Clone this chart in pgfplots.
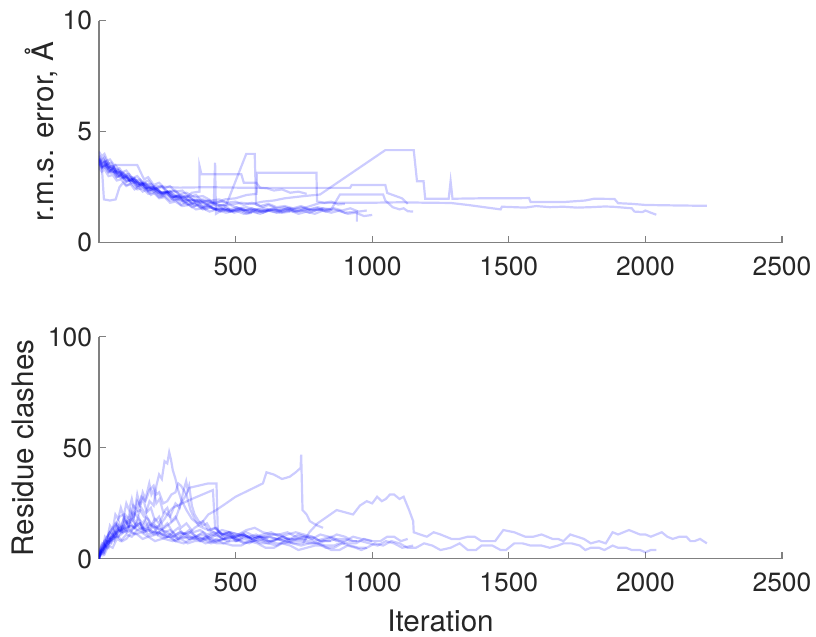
\documentclass[border=0pt]{standalone}
\usepackage{pgfplots}
\pgfplotsset{compat=1.18}
\usepackage{fontspec}
\setmainfont{TeX Gyre Heros}
\definecolor{axgray}{gray}{0.5}
\newcommand{\labfont}{\fontsize{14.8}{17}\selectfont}
\pgfplotsset{
  traj/.style={color=blue, opacity=0.2, line width=1.1pt},
  mystyle/.style={
    scale only axis, width=341.5pt, height=111pt,
    axis lines*=left,
    axis line style={axgray, line width=0.6pt},
    every tick/.style={axgray, line width=0.6pt},
    tick align=inside, major tick length=3.5pt,
    xmin=0, xmax=2500,
    xtick={500,1000,1500,2000,2500},
    /pgf/number format/assume math mode=true,
    /pgf/number format/1000 sep={},
    tick label style={font=\fontsize{13.2}{15}\selectfont, text=black!85},
    xticklabel style={yshift=-3.5pt},
  }
}
\begin{document}
\begin{tikzpicture}
\begin{axis}[mystyle, at={(0,0)}, anchor=south west,
  ymin=0, ymax=10, ytick={0,5,10},
  ylabel={r.m.s. error, Å},
  every axis y label/.style={at={(axis description cs:-0.066,0.5)}, rotate=90, anchor=base, inner sep=0pt, font=\labfont, text=black!85},
]
\addplot[traj] coordinates {(0,3.9)(8,3.7)(16,3.8)(25,3.5)(34,3.6)(45,3.3)(55,3.4)(66,3.1)(78,3.2)(90,2.9)(102,3.0)(115,2.75)(128,2.85)(142,2.6)(156,2.7)(170,2.45)(185,2.55)(200,2.3)(215,2.4)(232,2.15)(248,2.25)(265,2.0)(282,2.1)(300,1.85)(320,1.95)(340,1.75)(360,1.85)(380,1.6)(400,1.7)(420,1.5)(440,1.6)(460,1.45)(480,1.5)};
\addplot[traj] coordinates {(0,3.7)(10,3.5)(18,1.95)(40,1.9)(61,1.95)(75,2.5)(88,2.7)(100,2.55)(115,2.65)(130,2.4)(145,2.5)(160,2.3)(175,2.4)(190,2.15)(205,2.25)(220,2.05)(240,2.1)(260,1.9)(280,1.95)(300,1.7)(320,1.8)(340,1.6)(360,1.7)(380,1.5)(400,1.6)(420,1.55)(445,1.4)(470,1.5)(495,1.35)(520,1.45)(540,1.3)(560,1.35)};
\addplot[traj] coordinates {(0,4.1)(10,3.9)(20,4.0)(30,3.7)(40,3.75)(55,3.5)(140,3.5)(165,2.85)(180,2.95)(200,2.6)(220,2.7)(240,2.45)(260,2.55)(280,2.3)(305,2.35)(330,2.05)(355,2.15)(380,1.85)(405,1.9)(430,1.65)(455,1.7)(480,1.5)(505,1.6)(530,1.45)(555,1.5)(580,1.35)(600,1.45)(620,1.5)};
\addplot[traj] coordinates {(0,3.75)(10,3.55)(20,3.65)(32,3.35)(45,3.45)(58,3.15)(70,3.25)(85,2.95)(100,3.05)(115,2.75)(130,2.85)(150,2.55)(170,2.65)(190,2.35)(210,2.45)(230,2.2)(250,2.3)(270,2.05)(290,2.15)(310,1.8)(330,1.9)(350,1.65)(370,1.75)(390,1.5)(410,1.6)(435,1.45)(460,1.55)(490,1.4)(520,1.5)(550,1.35)(580,1.45)(610,1.4)(640,1.5)(670,1.35)(700,1.4)};
\addplot[traj] coordinates {(0,3.6)(12,3.4)(25,3.5)(38,3.2)(50,3.3)(65,2.95)(80,3.05)(100,2.75)(120,2.85)(140,2.55)(160,2.65)(180,2.35)(200,2.45)(225,2.2)(250,2.3)(275,2.05)(300,2.15)(320,2.05)(340,2.25)(368,2.3)(368,3.45)(375,3.08)(521,3.08)(530,2.7)(576,2.7)(590,2.47)(615,2.45)(640,2.35)(670,2.4)(700,2.25)(730,2.3)(760,2.2)};
\addplot[traj] coordinates {(0,3.8)(15,3.6)(30,3.7)(45,3.4)(60,3.5)(80,3.15)(100,3.25)(120,2.9)(140,3.0)(160,2.7)(180,2.8)(205,2.45)(230,2.55)(255,2.25)(280,2.35)(305,2.0)(330,2.1)(355,1.8)(380,1.9)(400,1.65)(420,1.7)(425,3.6)(428,1.3)(455,1.5)(480,1.4)(510,1.55)(540,1.45)(570,1.5)(600,1.35)(630,1.5)(660,1.45)(690,1.55)(720,1.4)(750,1.5)(780,1.45)(820,1.5)};
\addplot[traj] coordinates {(0,3.65)(12,3.45)(25,3.55)(40,3.25)(55,3.35)(72,3.05)(90,3.1)(110,2.8)(130,2.9)(150,2.6)(170,2.65)(190,2.4)(210,2.45)(235,2.2)(260,2.3)(285,2.0)(310,2.05)(335,1.85)(360,1.9)(385,1.75)(410,1.8)(440,1.68)(466,1.71)(539,4.0)(570,4.0)(575,1.73)(600,1.6)(620,1.7)(650,1.55)(680,1.6)(710,1.5)(740,1.6)(770,1.5)(800,1.55)(825,1.45)(850,1.5)};
\addplot[traj] coordinates {(0,3.5)(15,3.35)(30,3.45)(45,3.15)(60,3.2)(80,2.9)(100,2.95)(120,2.7)(140,2.75)(165,2.45)(190,2.5)(215,2.25)(240,2.3)(265,2.05)(290,2.1)(315,1.9)(340,1.95)(370,1.8)(400,1.9)(430,1.8)(460,1.95)(500,2.0)(540,2.15)(577,2.2)(578,3.15)(796,3.15)(798,1.86)(825,1.8)(850,1.85)(875,1.72)(900,1.75)};
\addplot[traj] coordinates {(0,3.55)(10,3.35)(20,3.45)(35,3.15)(50,3.2)(65,2.95)(80,3.0)(100,2.75)(120,2.8)(140,2.5)(160,2.55)(180,2.3)(200,2.35)(225,2.1)(250,2.15)(275,1.9)(300,1.95)(325,1.7)(350,1.75)(375,1.55)(400,1.65)(425,1.5)(450,1.55)(475,1.4)(500,1.5)(530,1.45)(560,1.55)(590,1.4)(620,1.45)(650,1.35)(680,1.5)(710,1.4)(740,1.45)(770,1.35)(800,1.5)(830,1.4)(860,1.5)(900,1.35)(944,1.4)(944,0.95)};
\addplot[traj] coordinates {(0,3.95)(10,3.75)(20,3.85)(32,3.55)(45,3.6)(60,3.3)(75,3.35)(92,3.05)(110,3.1)(130,2.8)(150,2.85)(170,2.6)(190,2.65)(210,2.45)(230,2.5)(250,2.3)(270,2.35)(295,2.2)(320,2.25)(350,2.05)(380,2.1)(410,1.9)(440,1.95)(470,1.8)(500,1.85)(530,1.7)(560,1.8)(590,1.65)(620,1.75)(650,1.6)(680,1.65)(710,1.55)(740,1.65)(770,1.5)(800,1.6)(830,1.5)(860,1.55)(890,1.45)(920,1.55)(950,1.4)(980,1.45)};
\addplot[traj] coordinates {(0,3.4)(10,3.2)(20,3.3)(35,3.0)(50,3.05)(65,2.8)(80,2.85)(100,2.6)(120,2.65)(140,2.4)(160,2.45)(180,2.2)(200,2.25)(220,2.0)(240,2.05)(260,1.8)(280,1.85)(305,1.65)(330,1.7)(355,1.5)(380,1.55)(405,1.4)(430,1.5)(465,1.35)(500,1.45)(530,1.3)(560,1.4)(590,1.3)(620,1.45)(660,1.35)(700,1.45)(730,1.3)(760,1.4)(790,1.3)(820,1.45)(850,1.35)(880,1.45)(910,1.3)(940,1.35)(970,1.2)(1000,1.25)};
\addplot[traj] coordinates {(0,3.75)(12,3.55)(25,3.65)(40,3.3)(55,3.4)(72,3.1)(90,3.15)(110,2.85)(130,2.9)(150,2.65)(170,2.7)(190,2.5)(210,2.55)(260,2.5)(294,2.48)(400,2.5)(500,2.48)(600,2.47)(700,2.47)(800,2.47)(919,2.47)(925,2.6)(1048,2.6)(1055,2.24)(1109,2.0)(1130,1.75)};
\addplot[traj] coordinates {(0,3.6)(10,3.4)(20,3.5)(35,3.2)(50,3.3)(68,3.0)(85,3.05)(102,2.8)(120,2.85)(140,2.55)(160,2.65)(180,2.35)(200,2.45)(225,2.15)(250,2.25)(275,1.95)(300,2.0)(325,1.75)(350,1.8)(375,1.6)(400,1.7)(430,1.5)(460,1.55)(490,1.45)(520,1.55)(550,1.4)(580,1.5)(610,1.45)(640,1.55)(670,1.4)(700,1.5)(730,1.4)(760,1.5)(790,1.45)(820,1.55)(850,1.5)(882,2.17)(1040,2.17)(1048,1.9)(1075,1.6)(1100,1.5)(1115,1.55)(1130,1.42)(1150,1.4)};
\addplot[traj] coordinates {(0,3.7)(15,3.45)(30,3.55)(50,3.2)(70,3.25)(90,2.95)(110,3.0)(130,2.7)(150,2.75)(175,2.45)(200,2.5)(225,2.25)(250,2.3)(275,2.05)(300,2.1)(330,1.9)(360,1.95)(390,1.75)(420,1.8)(450,1.65)(480,1.7)(510,1.55)(540,1.6)(570,1.5)(600,1.55)(650,1.45)(700,1.55)(730,1.5)(760,1.6)(809,1.79)(900,1.8)(1000,1.8)(1100,1.82)(1200,1.8)(1287,1.79)(1350,1.7)(1470,1.5)(1475,1.62)(1520,1.6)(1560,1.58)(1600,1.65)(1650,1.6)(1700,1.62)(1750,1.58)(1800,1.6)(1850,1.63)(1880,1.62)(1950,1.55)(1960,1.4)(1990,1.38)(2000,1.45)(2020,1.35)(2040,1.26)};
\addplot[traj] coordinates {(0,3.8)(10,3.6)(20,3.7)(35,3.4)(50,3.45)(65,3.15)(80,3.2)(100,2.9)(120,2.95)(140,2.65)(160,2.7)(180,2.45)(200,2.5)(230,2.25)(260,2.3)(290,2.05)(320,2.1)(350,1.9)(380,1.95)(415,1.8)(450,1.85)(485,1.72)(520,1.8)(560,1.75)(600,1.85)(640,1.9)(680,2.0)(715,2.05)(750,2.1)(809,2.17)(1048,4.17)(1152,4.17)(1164,2.77)(1188,2.77)(1194,1.98)(1280,1.98)(1287,2.77)(1294,1.98)(1400,2.0)(1500,2.0)(1574,2.01)(1580,1.83)(1700,1.83)(1780,1.9)(1812,1.98)(1887,1.97)(1900,1.78)(1950,1.75)(2000,1.7)(2100,1.68)(2225,1.66)};
\end{axis}
\begin{axis}[mystyle, at={(0,-47.1pt)}, anchor=north west,
  ymin=0, ymax=100, ytick={0,50,100},
  ylabel={Residue clashes}, xlabel={Iteration},
  every axis y label/.style={at={(axis description cs:-0.0966,0.5)}, rotate=90, anchor=base, inner sep=0pt, font=\labfont, text=black!85},
  every axis x label/.style={at={(axis description cs:0.5,-0.3288)}, anchor=base, inner sep=0pt, font=\labfont, text=black!85},
]
\addplot[traj] coordinates {(0,0)(5,3)(10,2)(18,7)(25,5)(35,10)(45,8)(55,13)(65,11)(75,16)(85,13)(95,18)(108,15)(120,20)(132,16)(145,19)(158,14)(170,17)(185,13)(200,15)(215,11)(230,13)(250,10)(270,12)(290,9)(310,11)(330,9)(350,10)(370,8)(390,10)(410,8)(430,9)(455,7)(480,8)};
\addplot[traj] coordinates {(0,2)(8,6)(15,5)(22,10)(30,9)(40,15)(50,13)(60,20)(70,18)(80,23)(90,19)(100,25)(110,22)(120,27)(130,21)(140,29)(150,24)(162,27)(175,21)(190,23)(205,17)(220,19)(235,14)(250,16)(270,12)(290,14)(310,11)(330,13)(355,10)(380,12)(405,9)(430,11)(455,9)(480,10)(505,8)(530,10)(560,9)};
\addplot[traj] coordinates {(0,1)(8,4)(16,3)(25,8)(35,7)(45,12)(55,10)(65,15)(78,13)(90,18)(102,16)(115,22)(128,19)(140,26)(150,24)(160,30)(170,27)(184,34)(192,29)(200,31)(210,25)(222,27)(235,21)(250,23)(265,17)(280,19)(300,14)(320,16)(345,12)(370,13)(395,11)(420,12)(445,10)(470,11)(500,9)(530,11)(560,9)(590,10)(620,9)};
\addplot[traj] coordinates {(0,0)(8,3)(16,2)(25,6)(35,5)(45,10)(55,9)(68,14)(80,12)(95,17)(110,15)(125,21)(140,19)(155,23)(170,20)(185,26)(200,24)(210,33)(220,38)(230,36)(240,44)(250,43)(257,48)(263,45)(270,40)(280,36)(287,32)(300,27)(320,22)(340,18)(360,16)(380,17)(400,13)(425,14)(450,11)(475,12)(500,10)(530,11)(560,9)(590,10)(620,8)(660,9)(700,9)};
\addplot[traj] coordinates {(0,1)(10,4)(20,3)(32,8)(45,7)(58,12)(70,10)(85,14)(100,12)(115,16)(130,14)(145,18)(160,16)(175,19)(190,15)(205,18)(220,16)(240,21)(260,19)(280,25)(295,23)(310,31)(319,35)(325,31)(330,33)(340,24)(350,20)(365,17)(380,15)(395,16)(410,13)(430,14)(450,11)(475,12)(500,10)(525,11)(550,10)(575,11)(600,9)(625,10)(650,9)(675,10)(700,8)(730,9)(760,9)};
\addplot[traj] coordinates {(0,0)(10,4)(20,6)(30,5)(40,9)(55,8)(70,13)(85,12)(100,15)(120,13)(140,15)(160,13)(180,16)(200,14)(220,15)(240,12)(260,13)(280,11)(300,12)(325,11)(350,14)(375,16)(400,20)(429,22)(465,25)(500,28)(550,31)(600,34)(613,39)(640,38)(670,36)(698,37)(720,39)(738,41)(740,47)(745,22)(760,20)(772,17)(785,16)(800,15)(820,14)};
\addplot[traj] coordinates {(0,2)(8,5)(16,4)(25,8)(35,7)(48,11)(60,10)(75,13)(90,12)(110,15)(130,14)(150,16)(170,13)(185,15)(200,16)(220,13)(240,14)(260,16)(280,18)(300,25)(315,28)(330,32)(365,33)(400,34)(430,34)(435,12)(465,11)(500,10)(530,11)(560,9)(590,10)(620,10)(650,9)(680,8)(710,9)(740,9)(770,8)(800,7)(825,8)(850,8)};
\addplot[traj] coordinates {(0,1)(10,3)(20,2)(35,6)(50,5)(65,9)(80,8)(100,11)(120,10)(140,13)(160,12)(180,13)(200,12)(220,15)(240,18)(255,21)(270,23)(340,27)(417,31)(425,14)(440,12)(460,10)(480,11)(500,8)(530,9)(560,8)(590,9)(620,8)(650,7)(680,7)(710,8)(740,8)(770,7)(800,7)(830,6)(860,6)(880,7)(900,7)};
\addplot[traj] coordinates {(0,0)(12,7)(25,6)(38,12)(50,11)(65,16)(80,14)(95,20)(110,18)(125,24)(140,22)(155,28)(170,26)(185,31)(200,33)(210,29)(220,30)(235,25)(250,26)(265,29)(280,30)(290,34)(300,33)(310,31)(320,29)(335,22)(350,18)(365,15)(380,14)(400,13)(420,12)(450,11)(480,12)(510,11)(540,12)(570,10)(600,10)(630,11)(660,11)(690,9)(720,9)(750,10)(780,10)(810,8)(840,8)(870,9)(900,9)(920,8)(944,8)};
\addplot[traj] coordinates {(0,3)(10,6)(20,8)(30,10)(40,12)(50,14)(60,16)(75,13)(90,14)(105,17)(120,18)(135,15)(150,16)(165,12)(180,13)(200,11)(220,12)(240,10)(260,10)(280,8)(300,9)(325,7)(350,8)(375,8)(400,9)(430,7)(460,7)(490,6)(520,6)(550,8)(580,7)(610,5)(640,5)(670,7)(700,6)(730,4)(760,5)(790,6)(820,6)(850,4)(880,4)(910,6)(940,5)(960,4)(980,5)};
\addplot[traj] coordinates {(0,0)(8,4)(15,4)(28,8)(40,8)(55,10)(70,10)(85,8)(100,9)(120,12)(140,11)(160,9)(180,10)(205,8)(230,9)(255,10)(280,8)(310,7)(340,9)(370,11)(400,10)(430,8)(460,9)(490,10)(520,8)(550,7)(580,9)(610,8)(640,8)(670,10)(700,9)(730,11)(760,10)(790,8)(820,9)(850,10)(880,8)(910,7)(940,7)(970,9)(1000,8)};
\addplot[traj] coordinates {(0,1)(15,6)(30,10)(45,13)(60,15)(75,19)(90,20)(105,16)(120,17)(135,21)(150,22)(165,19)(180,18)(195,15)(210,14)(230,13)(250,12)(275,10)(300,11)(330,12)(360,10)(390,9)(420,11)(450,13)(480,12)(510,11)(540,13)(570,14)(600,12)(630,11)(660,11)(690,12)(720,10)(750,10)(780,9)(810,11)(840,10)(870,8)(900,8)(930,10)(960,9)(1000,8)(1030,8)(1055,10)(1080,10)(1105,8)(1130,9)};
\addplot[traj] coordinates {(0,0)(10,3)(20,5)(35,7)(50,9)(70,10)(90,12)(110,13)(130,11)(155,12)(180,10)(210,11)(240,9)(270,8)(300,10)(330,9)(360,9)(390,7)(420,8)(450,9)(480,9)(510,11)(540,10)(570,10)(600,11)(630,12)(660,10)(690,11)(720,12)(750,11)(780,10)(810,8)(840,9)(870,11)(900,10)(930,8)(960,8)(990,7)(1020,6)(1050,8)(1080,7)(1110,5)(1150,6)};
\addplot[traj] coordinates {(0,2)(10,4)(20,6)(35,9)(50,10)(65,12)(80,13)(100,14)(120,15)(140,13)(160,14)(180,11)(200,12)(230,11)(260,11)(290,9)(320,10)(350,10)(380,9)(410,7)(440,8)(470,10)(500,9)(530,7)(560,8)(590,8)(620,7)(650,6)(680,8)(710,7)(740,6)(770,7)(800,7)(830,5)(860,5)(890,7)(920,6)(950,5)(980,5)(1010,7)(1040,6)(1070,8)(1100,7)(1130,5)(1160,5)(1190,7)(1220,6)(1250,4)(1287,5)(1320,7)(1350,4)(1380,4)(1400,6)(1440,6)(1470,4)(1490,4)(1520,7)(1550,7)(1580,6)(1620,6)(1650,5)(1680,6)(1700,7)(1730,7)(1760,6)(1780,4)(1800,5)(1830,5)(1850,4)(1880,6)(1900,5)(1930,5)(1950,4)(1980,4)(2000,3)(2020,4)(2040,4)};
\addplot[traj] coordinates {(0,1)(10,3)(20,5)(30,7)(40,9)(50,10)(60,12)(75,14)(90,15)(105,12)(120,13)(135,16)(150,16)(165,13)(180,14)(200,12)(220,12)(245,10)(270,10)(295,12)(320,11)(350,9)(380,9)(410,11)(440,10)(470,8)(500,8)(530,10)(560,9)(590,7)(620,7)(650,9)(680,8)(710,7)(747,7)(770,12)(800,16)(835,19)(870,22)(900,21)(930,20)(955,24)(980,26)(1000,25)(1018,28)(1035,26)(1050,27)(1065,29)(1080,29)(1100,27)(1115,28)(1135,22)(1150,17)(1152,12)(1175,11)(1200,10)(1225,12)(1250,11)(1270,10)(1290,9)(1320,9)(1350,10)(1375,10)(1400,8)(1450,8)(1480,13)(1520,12)(1540,11)(1560,10)(1590,10)(1620,11)(1640,10)(1660,9)(1680,9)(1700,8)(1725,11)(1750,10)(1775,9)(1800,7)(1830,8)(1855,7)(1880,12)(1900,11)(1920,12)(1940,13)(1960,12)(1980,11)(2000,11)(2020,10)(2040,11)(2060,12)(2080,10)(2100,9)(2125,10)(2150,10)(2165,8)(2180,8)(2200,9)(2225,7)};
\end{axis}
\pgfresetboundingbox
\path[use as bounding box] (-49.5pt,-196.75pt) rectangle (358.5pt,121.35pt);
\end{tikzpicture}
\end{document}
